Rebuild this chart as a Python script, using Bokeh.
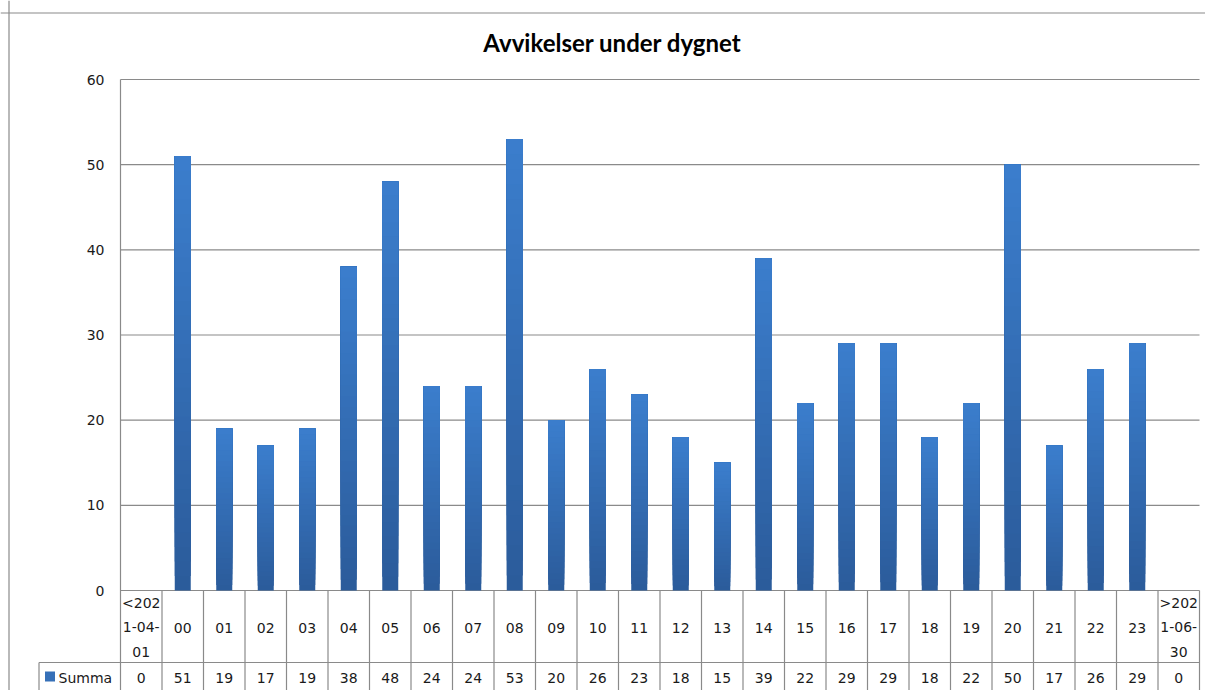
import numpy as np
from bokeh.plotting import figure
from bokeh.models import Range1d, Span
from bokeh.core.properties import value
from bokeh.embed import file_html
from bokeh.resources import INLINE

# ---------------- data ----------------
title_text = "Avvikelser under dygnet"
series_name = "Summa"
categories = ["<2021-04-01", "00", "01", "02", "03", "04", "05", "06", "07", "08",
              "09", "10", "11", "12", "13", "14", "15", "16", "17", "18", "19",
              "20", "21", "22", "23", ">2021-06-30"]
values = [0, 51, 19, 17, 19, 38, 48, 24, 24, 53, 20, 26, 23, 18, 15, 39, 22,
          29, 29, 18, 22, 50, 17, 26, 29, 0]
y_ticks = [0, 10, 20, 30, 40, 50, 60]

# ---------------- layout helpers ----------------
W, H = 1205, 690
OFF = 0                                 # page offset of the canvas
PX_LEFT, PX_RIGHT = 120.0, 1199.0       # page px of plot area
PX_ZERO, PX_TOP = 590.0, 79.0           # page px of y=0 and y=60
n = len(categories)
kx = (PX_RIGHT - PX_LEFT) / n
ky = (PX_ZERO - PX_TOP) / (y_ticks[-1] - y_ticks[0])


def xp(px):
    return (px - PX_LEFT) / kx


def yp(py):
    return (PX_ZERO - py) / ky


p = figure(width=W, height=H, output_backend="svg", toolbar_location=None,
           x_range=Range1d(xp(OFF), xp(OFF + W)), y_range=Range1d(yp(OFF + H), yp(OFF)),
           x_axis_location=None, y_axis_location=None, min_border=0)
p.min_border_left = p.min_border_right = p.min_border_top = p.min_border_bottom = 0
p.outline_line_color = None
p.grid.visible = False
p.background_fill_color = "white"
p.border_fill_color = "white"

GRID = "#8a8a8a"
FONT = value("DejaVu Sans")
TXT = "#1a1a1a"

# outer chart border (top and left)
p.add_layout(Span(location=yp(12.5), dimension="width", line_color=GRID, line_width=1.2))
p.add_layout(Span(location=xp(8.5), dimension="height", line_color=GRID, line_width=1.2))

# gridlines
p.segment(x0=[0] * len(y_ticks), x1=[n] * len(y_ticks), y0=y_ticks, y1=y_ticks,
          line_color=GRID, line_width=1.2)
# y tick labels
p.text(x=[xp(104)] * len(y_ticks), y=y_ticks, text=[str(t) for t in y_ticks],
       text_font=FONT, text_font_size="14px", text_color=TXT,
       text_align="right", text_baseline="middle")

# bars with vertical gradient (lighter top, darker bottom); overlapping bands, no seams
top_rgb = np.array([0x3b, 0x7e, 0xcd])
bot_rgb = np.array([0x2b, 0x5b, 0x9a])
N = 30
xs, bots, tops, cols = [], [], [], []
for k in range(N):
    f = (k + 0.5) / N
    c = bot_rgb + (top_rgb - bot_rgb) * f
    col = "#%02x%02x%02x" % tuple(int(round(t)) for t in c)
    for i, v in enumerate(values):
        if v <= 0:
            continue
        xs.append(i + 0.5)
        bots.append(v * k / N)
        tops.append(v)
        cols.append(col)
p.vbar(x=xs, bottom=bots, top=tops, width=16 / kx, fill_color=cols, line_color=None)

# ---------------- data table ----------------
y_bottom = yp(OFF + H)
y_row = yp(662)
# axis line / left edge of plot area
p.segment(x0=[0], x1=[0], y0=[y_ticks[-1]], y1=[y_bottom], line_color=GRID, line_width=1.2)
# column separators
bounds = list(range(1, n + 1))
p.segment(x0=bounds, x1=bounds, y0=[0] * len(bounds), y1=[y_bottom] * len(bounds),
          line_color=GRID, line_width=1.2)
# legend column left edge and row separator
p.segment(x0=[xp(38.5)], x1=[xp(38.5)], y0=[y_row], y1=[y_bottom], line_color=GRID, line_width=1.2)
p.segment(x0=[xp(38.5)], x1=[n], y0=[y_row], y1=[y_row], line_color=GRID, line_width=1.2)


def wrap_label(s):
    if len(s) <= 5:
        return s
    return "\n".join([s[:4], s[4:9], s[9:]])


cx = [i + 0.5 for i in range(n)]
p.text(x=cx, y=[yp(627)] * n, text=[wrap_label(c) for c in categories],
       text_font=FONT, text_font_size="14px", text_color=TXT,
       text_align="center", text_baseline="middle", text_line_height=1.55)
p.text(x=cx, y=[yp(677)] * n, text=[str(v) for v in values],
       text_font=FONT, text_font_size="14px", text_color=TXT,
       text_align="center", text_baseline="middle")

# legend key
p.rect(x=[xp(49.5)], y=[yp(676)], width=10 / kx, height=10 / ky,
       fill_color="#3670b8", line_color=None)
p.text(x=[xp(58)], y=[yp(677)], text=[series_name], text_font=FONT,
       text_font_size="14px", text_color=TXT, text_align="left",
       text_baseline="middle")

# title
p.text(x=[xp(612)], y=[yp(42)], text=[title_text], text_font=value("Lato"),
       text_font_style="bold", text_font_size="24px", text_color="#000000",
       text_align="center", text_baseline="middle")

open("out.html", "w").write(file_html(p, INLINE))
